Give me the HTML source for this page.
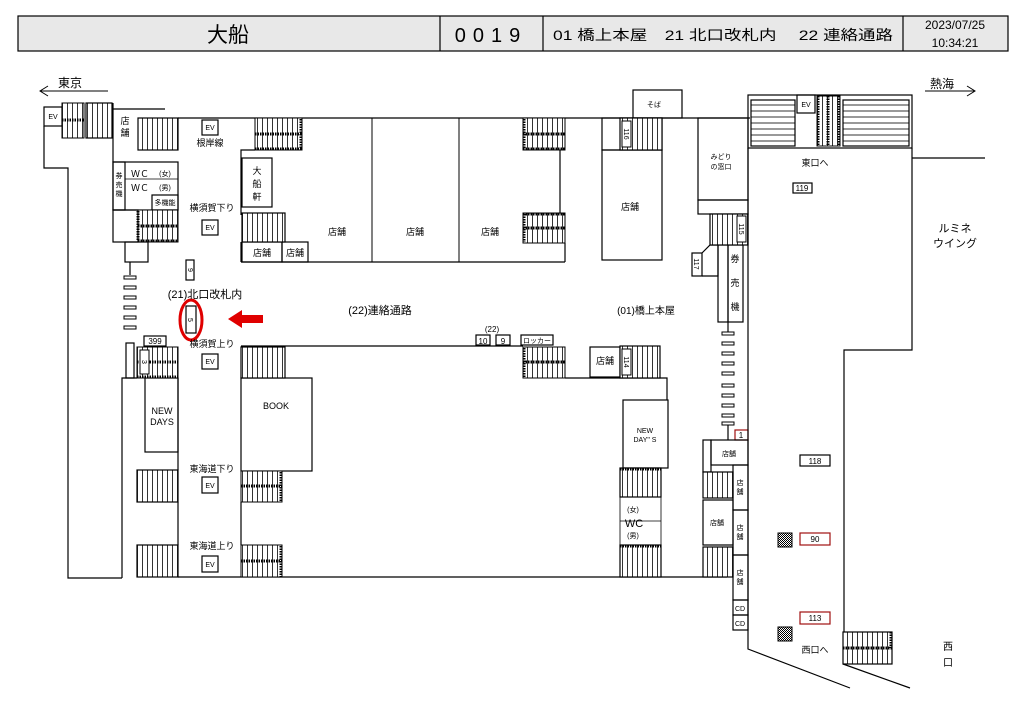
<!DOCTYPE html>
<html><head><meta charset="utf-8"><style>
html,body{margin:0;padding:0;background:#fff;}
svg{display:block;font-family:"Liberation Sans","Noto Sans CJK JP",sans-serif;}
</style></head><body>
<svg width="1024" height="724" viewBox="0 0 1024 724" xmlns="http://www.w3.org/2000/svg">
<defs>
<pattern id="v" width="5" height="10" patternUnits="userSpaceOnUse"><rect width="5" height="10" fill="#fff"/><line x1="2.5" y1="0" x2="2.5" y2="10" stroke="#000" stroke-width="0.8"/></pattern>
<pattern id="h" width="10" height="6" patternUnits="userSpaceOnUse"><rect width="10" height="6" fill="#fff"/><line x1="0" y1="3" x2="10" y2="3" stroke="#000" stroke-width="0.8"/></pattern>
<pattern id="dot" width="2" height="2" patternUnits="userSpaceOnUse"><rect width="2" height="2" fill="#fff"/><rect width="1" height="1" fill="#000"/><rect x="1" y="1" width="1" height="1" fill="#000"/></pattern>
</defs>
<g fill="none" stroke="#000" stroke-width="1.2">
<rect x="18" y="16" width="990" height="35" fill="#e8e8e8"/>
<line x1="440" y1="16" x2="440" y2="51"/><line x1="543" y1="16" x2="543" y2="51"/><line x1="903" y1="16" x2="903" y2="51"/>
<line x1="40" y1="91" x2="108" y2="91" stroke-width="1"/><polyline points="48,86 40,91 48,96" stroke-width="1"/>
<line x1="925" y1="91" x2="975" y2="91" stroke-width="1"/><polyline points="967,86 975,91 967,96" stroke-width="1"/>
<rect x="44" y="107" width="18" height="19" fill="#fff"/>
<polyline points="44,126 44,168 68,168 68,578 122,578"/>
<polyline points="112,109 165,109"/>
<line x1="113" y1="103" x2="113" y2="162"/>
<rect x="113" y="162" width="65" height="48"/>
<rect x="113" y="162" width="12" height="48"/>
<line x1="125" y1="179" x2="178" y2="179" stroke-width="0.8"/>
<rect x="152" y="195" width="26" height="15"/>
<rect x="113" y="210" width="25" height="32"/>
<rect x="125" y="242" width="23" height="20"/>
<line x1="130" y1="262" x2="130" y2="275"/>
<g stroke-width="1"><rect x="124" y="276" width="12" height="3"/><rect x="124" y="286" width="12" height="3"/><rect x="124" y="296" width="12" height="3"/><rect x="124" y="306" width="12" height="3"/><rect x="124" y="316" width="12" height="3"/><rect x="124" y="326" width="12" height="3"/></g>
<rect x="126" y="343" width="8" height="35"/>
<polyline points="122,578 122,378 137,378"/>
<line x1="178" y1="118" x2="750" y2="118"/>
<rect x="202" y="120" width="16" height="15"/>
<rect x="202" y="220" width="16" height="15"/>
<rect x="186" y="260" width="8" height="20"/>
<rect x="186" y="306" width="10" height="27"/>
<rect x="144" y="336" width="22" height="10"/>
<rect x="202" y="354" width="16" height="15"/>
<rect x="145" y="378" width="33" height="74"/>
<polyline points="178,378 178,470"/><polyline points="178,502 178,545"/>
<rect x="202" y="477" width="16" height="16"/>
<rect x="202" y="556" width="16" height="16"/>
<line x1="178" y1="577" x2="727" y2="577"/>
<polyline points="255,150 241,150 241,215"/>
<rect x="242" y="158" width="30" height="49"/>
<rect x="242" y="242" width="40" height="20"/><rect x="282" y="242" width="26" height="20"/>
<line x1="241" y1="262" x2="565" y2="262"/>
<line x1="241" y1="242" x2="241" y2="262"/>
<line x1="372" y1="118" x2="372" y2="262" stroke-width="1"/><line x1="459" y1="118" x2="459" y2="262" stroke-width="1"/>
<line x1="560" y1="150" x2="560" y2="213"/>
<line x1="565" y1="243" x2="565" y2="262"/>
<line x1="241" y1="346" x2="523" y2="346"/>
<rect x="241" y="378" width="71" height="93"/>
<line x1="241" y1="502" x2="241" y2="545"/>
<rect x="476" y="335" width="14" height="10"/><rect x="496" y="335" width="14" height="10"/><rect x="521" y="335" width="32" height="10"/>
<rect x="590" y="347" width="30" height="30"/>
<polyline points="565,378 667,378 667,400"/>
<rect x="623" y="400" width="45" height="68"/>
<rect x="620" y="497" width="41" height="48" stroke-width="0.8"/>
<line x1="620" y1="521" x2="661" y2="521" stroke-width="0.8"/>
<rect x="633" y="90" width="49" height="28"/>
<rect x="602" y="118" width="60" height="32"/>
<rect x="602" y="150" width="60" height="110"/>
<rect x="698" y="118" width="50" height="82"/>
<rect x="698" y="200" width="50" height="14"/>
<rect x="692" y="253" width="10" height="23"/>
<polyline points="702,276 718,276 718,245 710,245 702,253"/>
<rect x="718" y="245" width="10" height="77"/><rect x="728" y="245" width="15" height="77"/>
<line x1="728" y1="322" x2="728" y2="332"/>
<g stroke-width="1"><rect x="722" y="332" width="12" height="3"/><rect x="722" y="342" width="12" height="3"/><rect x="722" y="352" width="12" height="3"/><rect x="722" y="362" width="12" height="3"/><rect x="722" y="372" width="12" height="3"/><rect x="722" y="384" width="12" height="3"/><rect x="722" y="394" width="12" height="3"/><rect x="722" y="404" width="12" height="3"/><rect x="722" y="414" width="12" height="3"/><rect x="722" y="422" width="12" height="3"/></g>
<line x1="728" y1="425" x2="728" y2="440"/>
<rect x="735" y="430" width="13" height="10" stroke="#a01010"/>
<rect x="748" y="95" width="164" height="53"/>
<rect x="797" y="95" width="18" height="18"/>
<polyline points="912,148 912,350 844,350 844,632"/>
<line x1="912" y1="158" x2="985" y2="158"/>
<polyline points="748,148 748,649 850,688"/>
<line x1="843" y1="664" x2="910" y2="688"/>
<rect x="793" y="183" width="19" height="10"/>
<rect x="703" y="440" width="8" height="32"/>
<rect x="711" y="440" width="37" height="25"/>
<rect x="733" y="465" width="15" height="45"/><rect x="733" y="510" width="15" height="45"/><rect x="733" y="555" width="15" height="45"/>
<rect x="733" y="600" width="15" height="15"/><rect x="733" y="615" width="15" height="15"/>
<rect x="703" y="500" width="30" height="45"/>
<rect x="800" y="455" width="30" height="11"/>
<rect x="800" y="533" width="30" height="12" stroke="#a01010"/>
<rect x="800" y="612" width="30" height="12" stroke="#a01010"/>
</g>
<rect x="778" y="533" width="14" height="14" fill="url(#dot)" stroke="#000"/>
<rect x="778" y="627" width="14" height="14" fill="url(#dot)" stroke="#000"/>
<g stroke="#000" stroke-width="1.2">
<rect x="86" y="103" width="26" height="35" fill="url(#v)"/>
<rect x="138" y="118" width="40" height="32" fill="url(#v)"/>
<rect x="242" y="213" width="43" height="29" fill="url(#v)"/>
<rect x="241" y="347" width="44" height="31" fill="url(#v)"/>
<rect x="137" y="470" width="41" height="32" fill="url(#v)"/>
<rect x="137" y="545" width="41" height="32" fill="url(#v)"/>
<rect x="620" y="118" width="42" height="32" fill="url(#v)"/>
<rect x="710" y="214" width="38" height="31" fill="url(#v)"/>
<rect x="620" y="346" width="40" height="32" fill="url(#v)"/>
<rect x="620" y="468" width="41" height="29" fill="url(#v)"/>
<rect x="620" y="545" width="41" height="32" fill="url(#v)"/>
<rect x="703" y="472" width="30" height="26" fill="url(#v)"/>
<rect x="703" y="547" width="30" height="30" fill="url(#v)"/>
<rect x="843" y="632" width="49" height="32" fill="url(#v)"/>
<rect x="751" y="100" width="44" height="46" fill="url(#h)"/>
<rect x="843" y="100" width="66" height="46" fill="url(#h)"/>
</g>
<g stroke="#000">
<rect x="62" y="103" width="22" height="35" fill="url(#v)" stroke-width="1"/><line x1="62" y1="120" x2="84" y2="120" stroke-width="3" stroke-dasharray="1.5 1"/>
<g stroke-width="1">
<rect x="138" y="210" width="40" height="32" fill="url(#v)"/>
<rect x="255" y="118" width="47" height="32" fill="url(#v)"/>
<rect x="523" y="118" width="42" height="32" fill="url(#v)"/>
<rect x="523" y="213" width="42" height="30" fill="url(#v)"/>
<rect x="137" y="347" width="41" height="31" fill="url(#v)"/>
<rect x="241" y="471" width="41" height="31" fill="url(#v)"/>
<rect x="241" y="545" width="41" height="32" fill="url(#v)"/>
<rect x="523" y="347" width="42" height="31" fill="url(#v)"/>
<rect x="817" y="96" width="23" height="50" fill="url(#v)"/>
</g>
<g stroke-width="3" stroke-dasharray="1.5 1">
<line x1="138" y1="226" x2="178" y2="226"/><line x1="138" y1="241" x2="178" y2="241"/><line x1="138" y1="211" x2="138" y2="241"/>
<line x1="255" y1="134" x2="302" y2="134"/><line x1="255" y1="149" x2="302" y2="149"/><line x1="301" y1="119" x2="301" y2="149"/>
<line x1="523" y1="134" x2="565" y2="134"/><line x1="523" y1="149" x2="565" y2="149"/><line x1="524" y1="119" x2="524" y2="149"/>
<line x1="523" y1="228" x2="565" y2="228"/><line x1="523" y1="214" x2="565" y2="214"/><line x1="524" y1="214" x2="524" y2="242"/>
<line x1="137" y1="362" x2="178" y2="362"/><line x1="137" y1="377" x2="178" y2="377"/>
<line x1="241" y1="486" x2="282" y2="486"/><line x1="281" y1="472" x2="281" y2="502"/>
<line x1="241" y1="561" x2="282" y2="561"/><line x1="281" y1="546" x2="281" y2="577"/>
<line x1="523" y1="362" x2="565" y2="362"/><line x1="524" y1="348" x2="524" y2="378"/>
<line x1="828" y1="96" x2="828" y2="146"/><line x1="818" y1="96" x2="818" y2="146"/><line x1="839" y1="96" x2="839" y2="146"/>
<line x1="843" y1="648" x2="892" y2="648"/><line x1="891" y1="632" x2="891" y2="648"/>
<line x1="620" y1="469" x2="661" y2="469"/><line x1="620" y1="546" x2="661" y2="546"/>
</g>
</g>
<g fill="#fff" stroke="#000" stroke-width="1">
<rect x="622" y="121" width="9" height="26"/><rect x="737" y="216" width="9" height="26"/><rect x="622" y="349" width="9" height="26"/><rect x="140" y="350" width="9" height="24"/>
</g>
<ellipse cx="191" cy="320" rx="11" ry="20" fill="none" stroke="#e00000" stroke-width="3"/>
<polygon points="228,319 242,310 242,315 263,315 263,323 242,323 242,328" fill="#e00000"/>
<g fill="#000" stroke="none">
<text x="228" y="42" font-size="21" text-anchor="middle">大船</text>
<text x="491" y="42" font-size="20" text-anchor="middle" letter-spacing="7">0019</text>
<text x="553" y="40" font-size="14" textLength="340" lengthAdjust="spacingAndGlyphs">01 橋上本屋　21 北口改札内　 22 連絡通路</text>
<text x="955" y="29" font-size="12" text-anchor="middle">2023/07/25</text>
<text x="955" y="47" font-size="12" text-anchor="middle">10:34:21</text>
<text x="58" y="87" font-size="12">東京</text>
<text x="930" y="88" font-size="12">熱海</text>
<g font-size="7" text-anchor="middle">
<text x="53" y="119">EV</text><text x="210" y="130">EV</text><text x="210" y="230">EV</text><text x="210" y="364">EV</text><text x="210" y="488">EV</text><text x="210" y="567">EV</text><text x="806" y="107">EV</text>
<text x="165" y="205">多機能</text><text x="654" y="107">そば</text><text x="537" y="343">ロッカー</text>
<text x="721" y="159">みどり</text><text x="721" y="169">の窓口</text>
<text x="645" y="433">NEW</text><text x="645" y="442">DAY" S</text>
<text x="633" y="512">(女)</text><text x="633" y="538">(男)</text>
<text x="740" y="611">CD</text><text x="740" y="626">CD</text>
<text x="729" y="456">店舗</text><text x="717" y="525">店舗</text>
<text x="740" y="485">店</text><text x="740" y="494">舗</text>
<text x="740" y="530">店</text><text x="740" y="539">舗</text>
<text x="740" y="575">店</text><text x="740" y="584">舗</text>
<text x="119" y="178">券</text><text x="119" y="187">売</text><text x="119" y="196">機</text>
<text transform="translate(624,134) rotate(90)" x="0" y="0">116</text>
<text transform="translate(739,229) rotate(90)" x="0" y="0">115</text>
<text transform="translate(694,264) rotate(90)" x="0" y="0">117</text>
<text transform="translate(624,362) rotate(90)" x="0" y="0">114</text>
<text transform="translate(188,270) rotate(90)" x="0" y="0">9</text>
<text transform="translate(188,320) rotate(90)" x="0" y="0">5</text>
<text transform="translate(142,362) rotate(90)" x="0" y="0">3</text>
</g>
<g font-size="9" text-anchor="middle">
<text x="125" y="124">店</text><text x="125" y="136">舗</text>
<text x="210" y="146">根岸線</text>
<text x="140" y="177">ＷＣ</text><text x="165" y="176" font-size="7">(女)</text>
<text x="140" y="191">ＷＣ</text><text x="165" y="190" font-size="7">(男)</text>
<text x="212" y="211">横須賀下り</text><text x="212" y="347">横須賀上り</text>
<text x="212" y="472">東海道下り</text><text x="212" y="549">東海道上り</text>
<text x="257" y="174">大</text><text x="257" y="187">船</text><text x="257" y="200">軒</text>
<text x="262" y="256">店舗</text><text x="295" y="256">店舗</text>
<text x="337" y="235">店舗</text><text x="415" y="235">店舗</text><text x="490" y="235">店舗</text>
<text x="630" y="210">店舗</text><text x="605" y="364">店舗</text>
<text x="155" y="344" font-size="8">399</text>
<text x="483" y="344" font-size="8">10</text><text x="503" y="344" font-size="8">9</text>
<text x="492" y="332" font-size="8">(22)</text>
<text x="802" y="191" font-size="8">119</text>
<text x="815" y="464" font-size="8">118</text><text x="815" y="542" font-size="8">90</text><text x="815" y="621" font-size="8">113</text>
<text x="741" y="438" font-size="8">1</text>
<text x="735" y="262">券</text><text x="735" y="286">売</text><text x="735" y="310">機</text>
<text x="815" y="166">東口へ</text><text x="815" y="653">西口へ</text>
<text x="948" y="650" font-size="10">西</text><text x="948" y="666" font-size="10">口</text>
<text x="162" y="414">NEW</text><text x="162" y="425">DAYS</text>
<text x="276" y="409">BOOK</text>
<text x="634" y="527" font-size="11">WC</text>
</g>
<text x="205" y="298" font-size="11" text-anchor="middle">(21)北口改札内</text>
<text x="380" y="314" font-size="11" text-anchor="middle">(22)連絡通路</text>
<text x="646" y="314" font-size="10" text-anchor="middle">(01)橋上本屋</text>
<text x="955" y="232" font-size="11" text-anchor="middle">ルミネ</text>
<text x="955" y="247" font-size="11" text-anchor="middle">ウイング</text>
</g>
</svg>
</body></html>
